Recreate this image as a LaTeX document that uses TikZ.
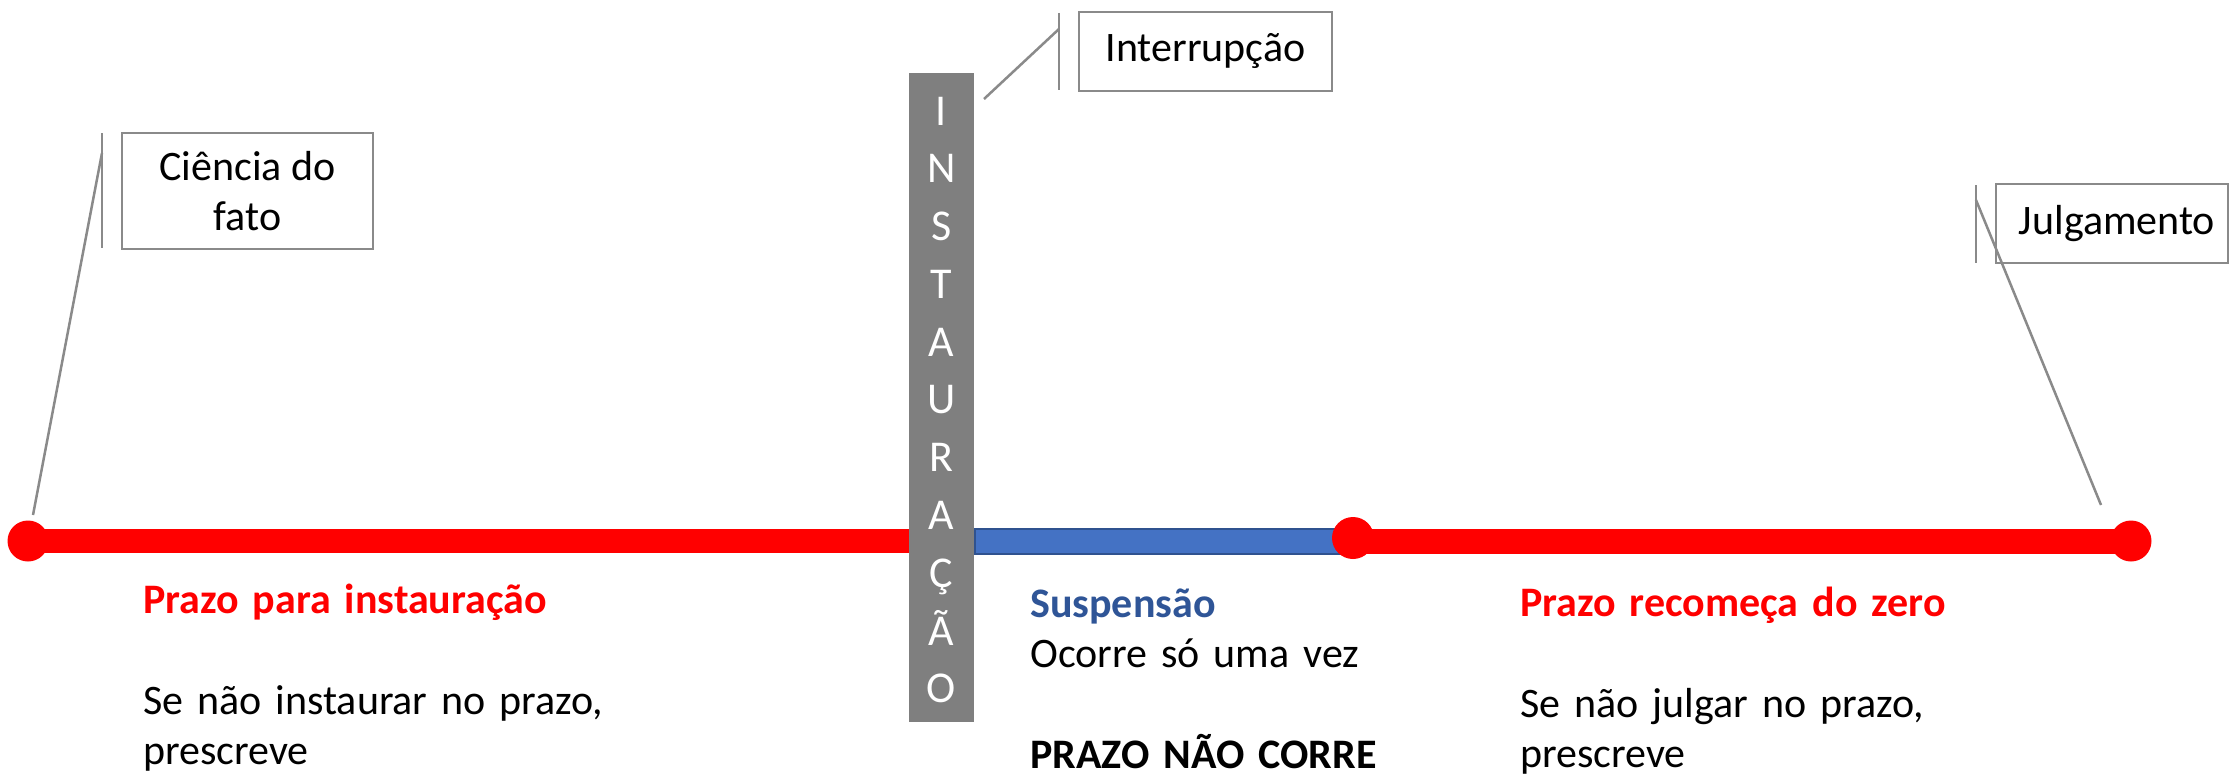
\documentclass[tikz,border=0pt]{standalone}
\usepackage{fontspec}
\setmainfont{Carlito}
\definecolor{lred}{HTML}{FF0000}
\definecolor{barGray}{HTML}{7F7F7F}
\definecolor{calloutGray}{HTML}{8A8A8A}
\definecolor{suspBlue}{HTML}{4472C4}
\definecolor{suspEdge}{HTML}{2F528F}
\definecolor{suspText}{HTML}{2F5597}
\begin{document}
\begin{tikzpicture}[x=1pt,y=-1pt,
  txt/.style={font=\fontsize{42pt}{50.5pt}\selectfont, inner sep=0pt},
  calloutbox/.style={draw=calloutGray, line width=2.5pt, inner sep=0pt, txt},
  leader/.style={draw=calloutGray, line width=2.5pt},
  dot/.style={circle, fill=lred, inner sep=0pt, minimum size=41pt},
  column/.style={txt, anchor=base west, text width=600pt, align=left},
]
\useasboundingbox (0,0) rectangle (2231,776);

% timeline
\coordinate (L) at (28,541);
\coordinate (Lend) at (912,541);
\coordinate (M) at (1353,541);
\coordinate (R) at (2131,541);
\draw[lred, line width=24pt] (L) -- (Lend);
\node[fill=barGray, minimum width=65pt, minimum height=649pt, inner sep=0pt] (bar) at (941.5,397.5) {};
\node[txt, text=white, anchor=base, text width=60pt, align=center,
      font=\fontsize{44pt}{57.8pt}\selectfont] (letters) at (941.5,125)
      {I\\N\\S\\T\\A\\U\\R\\A\\Ç\\Ã\\O};
\node[rectangle, fill=suspBlue, draw=suspEdge, line width=2pt, minimum width=378pt,
      minimum height=25pt, inner sep=0pt, anchor=west] (susp) at (974,541) {};
\draw[lred, line width=25pt] (M) -- (R);
\node[dot] (dL) at (L) {};
\node[dot, minimum size=42pt] (dM) at (1353,538) {};
\node[dot] (dR) at (R) {};

% callout: Ciencia do fato
\node[calloutbox, minimum width=251pt, minimum height=116pt, align=center] (cien) at (247.5,191) {Ciência do\\fato};
\coordinate (cienTop) at (102,133);
\coordinate (cienBot) at (102,248);
\coordinate (cienK) at (102,153);
\coordinate (cienTip) at (33,515);
\draw[leader] (cienTop) -- (cienBot);
\draw[leader] (cienK) -- (cienTip);

% callout: Interrupcao
\node[calloutbox, minimum width=253pt, minimum height=79pt] (interr) at (1205.5,51.5) {Interrupção};
\coordinate (intTop) at (1059,13);
\coordinate (intBot) at (1059,90);
\coordinate (intK) at (1059,29);
\coordinate (intTip) at (984,99);
\draw[leader] (intTop) -- (intBot);
\draw[leader] (intK) -- (intTip);

% callout: Julgamento
\node[calloutbox, minimum width=232pt, minimum height=79pt] (julg) at (2112,223.5) {\hspace*{10pt}Julgamento};
\coordinate (julTop) at (1976,185);
\coordinate (julBot) at (1976,263);
\coordinate (julK) at (1976,200);
\coordinate (julTip) at (2101,505);
\draw[leader] (julTop) -- (julBot);
\draw[leader] (julK) -- (julTip);

% text columns
\node[column] (colL) at (143,613)
  {\textbf{\textcolor{lred}{Prazo para instauração}}\\[50.5pt]Se não instaurar no prazo,\\prescreve};
\node[column, text width=450pt] (colM) at (1030,617)
  {\textbf{\textcolor{suspText}{Suspensão}}\\Ocorre só uma vez\\[50.5pt]\textbf{PRAZO NÃO CORRE}};
\node[column] (colR) at (1520,616)
  {\textbf{\textcolor{lred}{Prazo recomeça do zero}}\\[50.5pt]Se não julgar no prazo,\\prescreve};
\end{tikzpicture}
\end{document}
